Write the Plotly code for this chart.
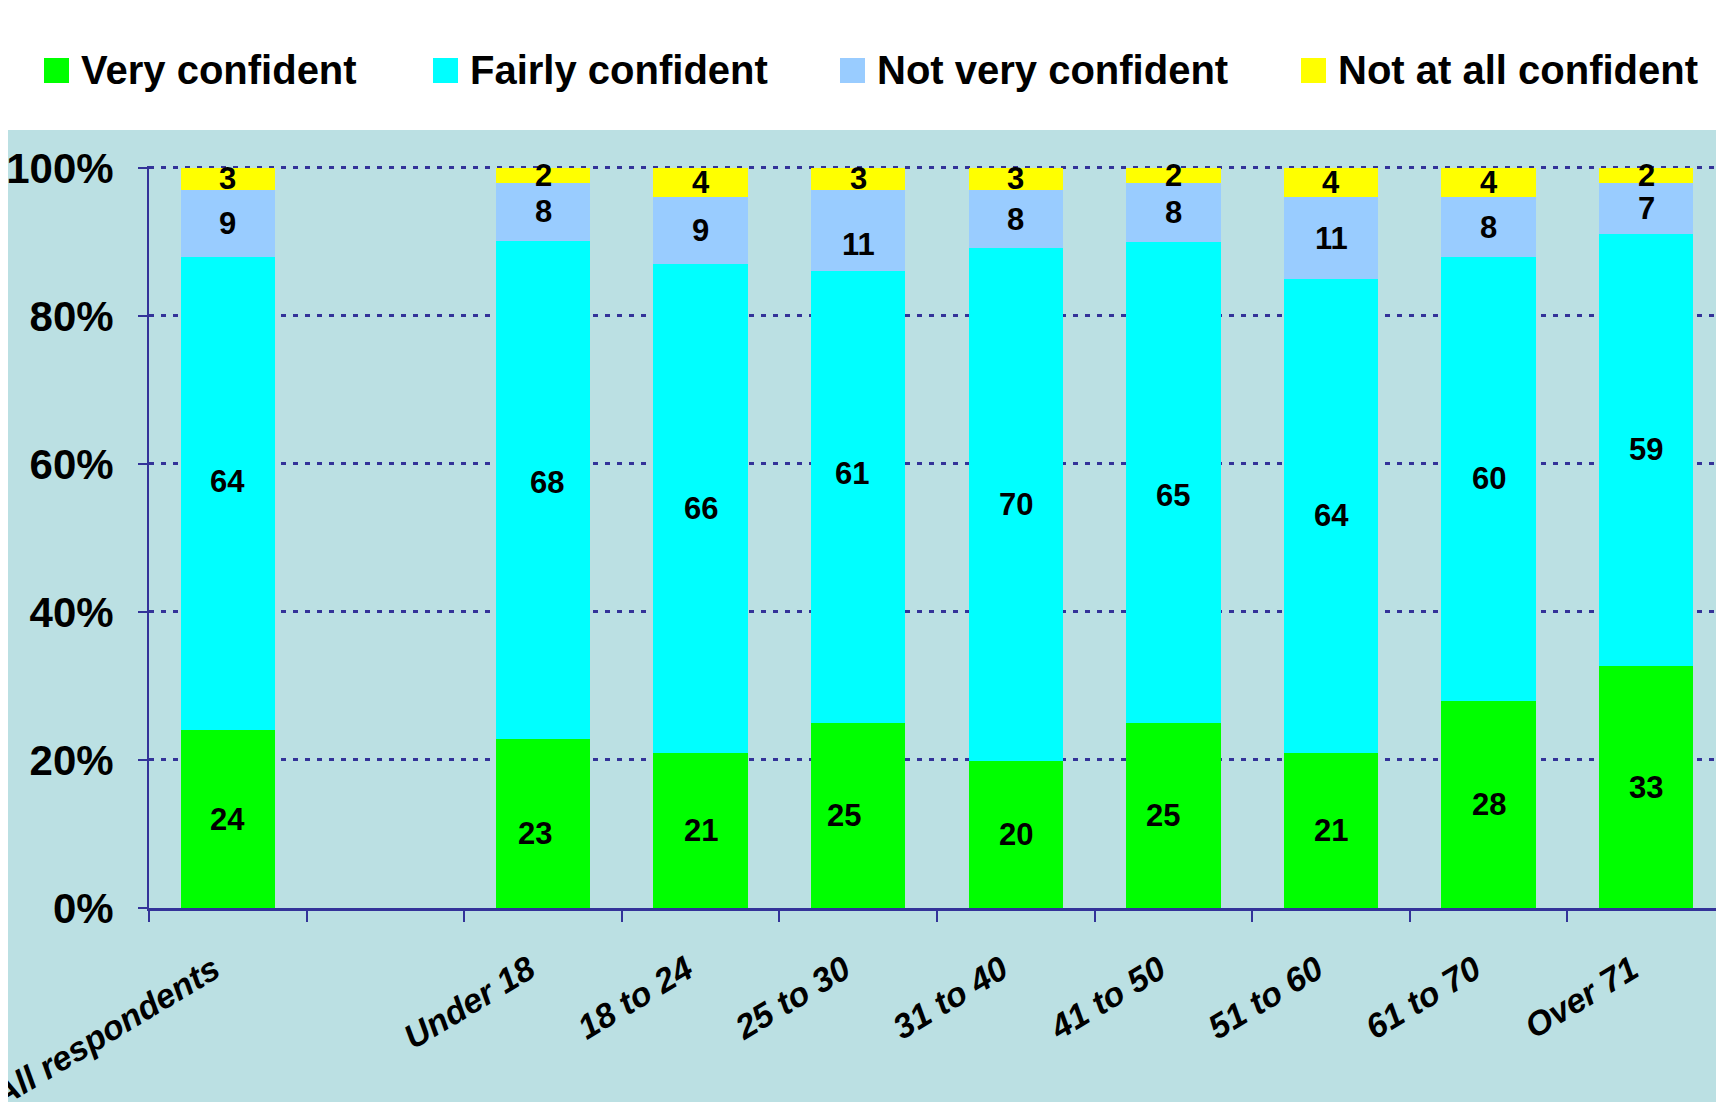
import plotly.graph_objects as go

# data (percent of respondents)
categories = ["All respondents", " ", "Under 18", "18 to 24", "25 to 30", "31 to 40",
              "41 to 50", "51 to 60", "61 to 70", "Over 71"]
very_confident = [24, None, 23, 21, 25, 20, 25, 21, 28, 33]
fairly_confident = [64, None, 68, 66, 61, 70, 65, 64, 60, 59]
not_very_confident = [9, None, 8, 9, 11, 8, 8, 11, 8, 7]
not_at_all_confident = [3, None, 2, 4, 3, 3, 2, 4, 4, 2]
series_names = ["Very confident", "Fairly confident", "Not very confident", "Not at all confident"]
y_ticks = [0, 20, 40, 60, 80, 100]
y_tick_text = ["0%", "20%", "40%", "60%", "80%", "100%"]

colors = ["#00FF00", "#00FFFF", "#99CCFF", "#FFFF00"]
bg = "#BBE0E3"
navy = "#333399"
font_family = "Arial, Liberation Sans, sans-serif"

# the page puts the plot 8px in from the window corner, so work in window pixels
OFF = 8
W, H = 1724 - 2 * OFF, 1110 - 2 * OFF
L, R, T, B = 149, 1724 - OFF, 166, 908  # plot area in window pixels
CAT_W = 157.6  # width of one category slot in the original

# a few data labels were dragged off-centre in the original (pixels)
label_nudge = {
    (1, 0): (0, 12),
    (1, 2): (4, 8), (0, 2): (-8, -10),
    (1, 4): (-6, 24), (2, 4): (0, -14), (0, 4): (-14, 0),
    (1, 6): (0, -13), (0, 6): (-10, 0),
}


def px(x):
    return (x - L) / (R - L)


def py(y):
    return (B - y) / (B - T)


series = [very_confident, fairly_confident, not_very_confident, not_at_all_confident]

fig = go.Figure()
for name, vals, col in zip(series_names, series, colors):
    fig.add_trace(go.Bar(
        x=categories, y=vals, name=name,
        marker=dict(color=col, line=dict(width=0)),
        showlegend=False, hoverinfo="x+y+name",
    ))

# value labels, centred in each (normalised) segment
annotations = []
for j, cat in enumerate(categories):
    if very_confident[j] is None:
        continue
    total = sum(s[j] for s in series)
    base = 0
    for i, s in enumerate(series):
        v = s[j]
        dx, dy = label_nudge.get((i, j), (0, 0))
        annotations.append(dict(x=cat, y=(base + v / 2) / total * 100, xref="x", yref="y",
                                text=str(v), showarrow=False, xshift=dx, yshift=dy,
                                xanchor="center", yanchor="middle",
                                font=dict(family=font_family, size=31, color="black", weight="bold")))
        base += v

# legend box drawn by hand so the swatches match the original size
shapes = [dict(type="rect", xref="paper", yref="paper",
               x0=px(0), x1=px(1740), y0=py(130), y1=py(0),
               fillcolor="white", line=dict(width=0), layer="above")]
legend_x = [44, 433, 840, 1301]
for name, col, lx in zip(series_names, colors, legend_x):
    shapes.append(dict(type="rect", xref="paper", yref="paper",
                       x0=px(lx), x1=px(lx + 25), y0=py(83), y1=py(58),
                       fillcolor=col, line=dict(width=0), layer="above"))
    annotations.append(dict(xref="paper", yref="paper", x=px(lx + 35), y=py(70),
                            xanchor="left", yanchor="middle", showarrow=False,
                            text=name,
                            font=dict(family=font_family, size=40, color="black", weight="bold")))

fig.update_layout(
    width=W, height=H,
    margin=dict(l=L - OFF, r=0, t=T - OFF, b=H + OFF - B, pad=0),
    barmode="stack", barnorm="percent", bargap=0.4,
    paper_bgcolor=bg, plot_bgcolor=bg,
    shapes=shapes, annotations=annotations,
    showlegend=False,
)
fig.update_xaxes(
    type="category", range=[-0.5, -0.5 + (R - L) / CAT_W],
    tickson="boundaries", ticks="outside", ticklen=11, tickwidth=2,
    tickcolor=navy, showline=True, linecolor=navy, linewidth=2.5, showgrid=False,
    tickangle=-31, automargin=False, ticklabelstandoff=26, ticklabelshift=-14,
    tickfont=dict(family=font_family, size=34, color="black", weight="bold", style="italic"),
)
fig.update_yaxes(
    range=[0, 100.25], tickmode="array", tickvals=y_ticks, ticktext=y_tick_text,
    showgrid=True, gridcolor=navy, griddash="5px,7px", gridwidth=3,
    ticks="outside", ticklen=9, tickwidth=2, tickcolor=navy,
    showline=True, linecolor=navy, linewidth=2, zeroline=False,
    automargin=False, ticklabelstandoff=16,
    tickfont=dict(family=font_family, size=42, color="black", weight="bold"),
)

fig.write_html("out.html")
